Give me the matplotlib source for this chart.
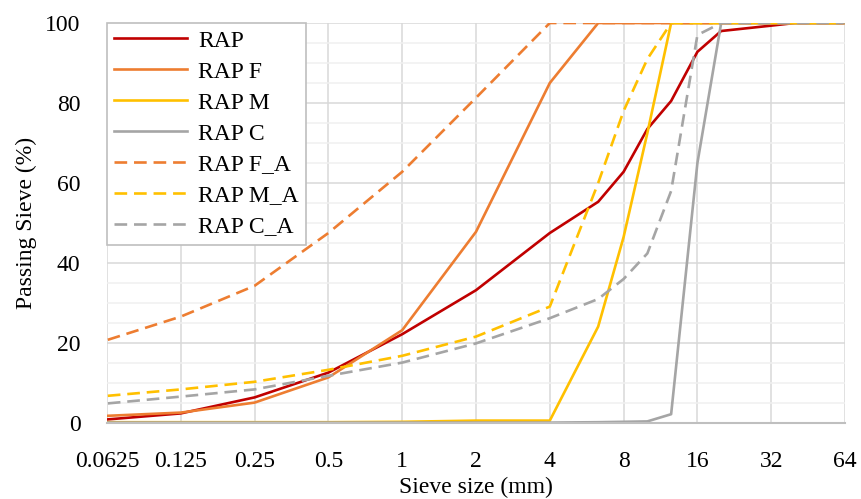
import numpy as np
import matplotlib.pyplot as plt
from matplotlib.ticker import FixedLocator, FixedFormatter, NullLocator

# Sieve sizes (mm)
sieve = [0.063, 0.125, 0.25, 0.5, 1, 2, 4, 6.3, 8, 10, 12.5, 16, 20, 31.5, 40, 63]

# Passing (%) for each material
rap = [0.9, 2.4, 6.4, 12.6, 22.2, 33.2, 47.5, 55.3, 62.8, 73.5, 80.5, 92.8, 98.0, 99.3, 100, 100]
rap_f = [1.8, 2.6, 5.1, 11.4, 23.2, 47.8, 85.0, 100, 100, 100, 100, 100, 100, 100, 100, 100]
rap_m = [0.2, 0.2, 0.2, 0.2, 0.3, 0.6, 0.6, 24.1, 46.5, 72.5, 100, 100, 100, 100, 100, 100]
rap_c = [0.1, 0.1, 0.1, 0.1, 0.1, 0.1, 0.1, 0.2, 0.3, 0.4, 2.2, 65, 100, 100, 100, 100]
rap_f_a = [20.8, 26.6, 34.3, 47.5, 62.8, 81.3, 100, 100, 100, 100, 100, 100, 100, 100, 100, 100]
rap_m_a = [6.8, 8.4, 10.3, 13.3, 16.8, 21.6, 29.1, 60, 78, 91, 100, 100, 100, 100, 100, 100]
rap_c_a = [4.9, 6.6, 8.4, 11.8, 15.1, 19.9, 26.2, 31, 36, 42.4, 58, 97, 100, 100, 100, 100]

# Axis ticks
xticks = [0.0625, 0.125, 0.25, 0.5, 1, 2, 4, 8, 16, 32, 64]
xticklabels = ['0.0625', '0.125', '0.25', '0.5', '1', '2', '4', '8', '16', '32', '64']
yticks = [0, 20, 40, 60, 80, 100]

plt.rcParams['font.family'] = ['Liberation Serif', 'DejaVu Serif']

fig = plt.figure(figsize=(8.62, 4.99), dpi=100)
ax = fig.add_axes([0.1241, 0.1523, 0.8562, 0.8016])

red = '#C00000'
orange = '#ED7D31'
yellow = '#FFC000'
grey = '#A5A5A5'
lw = 1.9
dash = (0, (4.8, 2.6))

ax.plot(sieve, rap, color=red, lw=lw, label='RAP')
ax.plot(sieve, rap_f, color=orange, lw=lw, label='RAP F')
ax.plot(sieve, rap_m, color=yellow, lw=lw, label='RAP M')
ax.plot(sieve, rap_c, color=grey, lw=lw, label='RAP C')
ax.plot(sieve, rap_f_a, color=orange, lw=lw, ls=dash, label='RAP F_A')
ax.plot(sieve, rap_m_a, color=yellow, lw=lw, ls=dash, label='RAP M_A')
ax.plot(sieve, rap_c_a, color=grey, lw=lw, ls=dash, label='RAP C_A')

ax.set_xscale('log', base=2)
ax.set_xlim(0.0625, 64)
ax.set_ylim(0, 100)
ax.xaxis.set_major_locator(FixedLocator(xticks))
ax.xaxis.set_major_formatter(FixedFormatter(xticklabels))
ax.xaxis.set_minor_locator(NullLocator())
ax.set_yticks(yticks)
ax.set_yticks(np.arange(0, 101, 5), minor=True)

# Gridlines
ax.grid(which='major', axis='both', color='#D9D9D9', lw=1.1, zorder=0)
ax.grid(which='minor', axis='y', color='#F0F0F0', lw=1.1, zorder=0)
ax.set_axisbelow(True)

for s in ['top', 'right', 'left']:
    ax.spines[s].set_visible(False)
ax.spines['bottom'].set_color('#BFBFBF')
ax.spines['bottom'].set_linewidth(1.5)

ax.tick_params(which='both', length=0)
ax.tick_params(axis='x', labelsize=17, pad=20)
ax.tick_params(axis='y', labelsize=17, pad=19)

ax.set_xlabel('Sieve size (mm)', fontsize=17, labelpad=4)
ax.set_ylabel('Passing Sieve (%)', fontsize=17, labelpad=6)

leg = ax.legend(loc='upper left', bbox_to_anchor=(0, 1), borderaxespad=0,
                fontsize=17, handlelength=3.1, labelspacing=0.40,
                fancybox=False, framealpha=1, edgecolor='#BFBFBF',
                borderpad=0.3, handletextpad=0.45)
leg.get_frame().set_linewidth(1.2)

fig.savefig('out.png', dpi=100)
